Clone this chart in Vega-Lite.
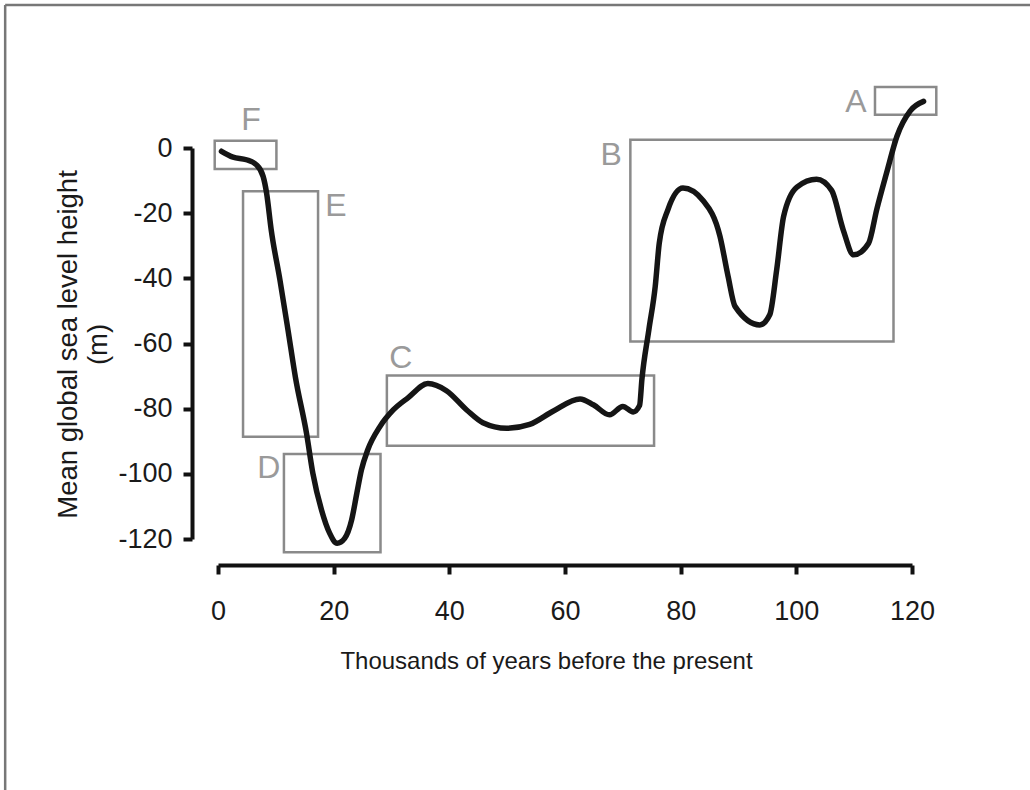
{
  "$schema": "https://vega.github.io/schema/vega-lite/v6.json",
  "width": 694,
  "height": 391,
  "autosize": "none",
  "padding": {"left": 218, "top": 148, "right": 118, "bottom": 251},
  "background": "white",
  "config": {
    "view": {"stroke": null},
    "axis": {
      "grid": false,
      "domainColor": "#111",
      "domainWidth": 4,
      "tickColor": "#111",
      "tickWidth": 4,
      "tickSize": 9,
      "labelFlush": false,
      "labelOverlap": false,
      "labelFont": "Liberation Sans",
      "labelFontSize": 27,
      "labelColor": "#1a1a1a",
      "titleFont": "Liberation Sans",
      "titleColor": "#1a1a1a",
      "titleFontWeight": "normal"
    }
  },
  "datasets": {
    "curve": [
      {"kyr": 0.6, "sea": -1.0}, {"kyr": 2.6, "sea": -2.8}, {"kyr": 4.9, "sea": -3.6},
      {"kyr": 6.6, "sea": -5.1}, {"kyr": 7.8, "sea": -8.7}, {"kyr": 8.4, "sea": -13.8},
      {"kyr": 9.2, "sea": -25.1}, {"kyr": 10.7, "sea": -40.4}, {"kyr": 12.1, "sea": -55.8},
      {"kyr": 13.4, "sea": -70.5}, {"kyr": 15.3, "sea": -87.5}, {"kyr": 16.4, "sea": -99.8},
      {"kyr": 17.9, "sea": -111.1}, {"kyr": 19.3, "sea": -118.2}, {"kyr": 20.6, "sea": -121.3},
      {"kyr": 21.9, "sea": -119.8}, {"kyr": 23.1, "sea": -114.2}, {"kyr": 24.0, "sea": -106.0},
      {"kyr": 24.8, "sea": -98.8}, {"kyr": 25.9, "sea": -92.6}, {"kyr": 28.0, "sea": -85.5},
      {"kyr": 30.3, "sea": -80.4}, {"kyr": 32.9, "sea": -76.6}, {"kyr": 36.3, "sea": -72.3},
      {"kyr": 39.5, "sea": -74.5}, {"kyr": 43.0, "sea": -80.4}, {"kyr": 45.8, "sea": -84.3},
      {"kyr": 49.9, "sea": -86.0}, {"kyr": 53.9, "sea": -84.8}, {"kyr": 58.0, "sea": -80.7},
      {"kyr": 62.6, "sea": -77.0}, {"kyr": 64.9, "sea": -78.8}, {"kyr": 67.7, "sea": -81.9},
      {"kyr": 70.0, "sea": -79.3}, {"kyr": 71.8, "sea": -81.0}, {"kyr": 72.9, "sea": -79.0},
      {"kyr": 73.3, "sea": -71.0}, {"kyr": 74.5, "sea": -55.8}, {"kyr": 75.6, "sea": -42.5},
      {"kyr": 76.3, "sea": -29.2}, {"kyr": 77.8, "sea": -18.9}, {"kyr": 80.4, "sea": -12.3},
      {"kyr": 83.9, "sea": -16.2}, {"kyr": 86.8, "sea": -27.1}, {"kyr": 88.2, "sea": -39.4},
      {"kyr": 89.4, "sea": -48.6}, {"kyr": 93.7, "sea": -54.3}, {"kyr": 95.4, "sea": -51.2},
      {"kyr": 96.6, "sea": -37.4}, {"kyr": 97.8, "sea": -21.0}, {"kyr": 100.1, "sea": -12.0},
      {"kyr": 103.5, "sea": -9.6}, {"kyr": 106.1, "sea": -13.0}, {"kyr": 108.1, "sea": -25.1},
      {"kyr": 109.9, "sea": -32.8}, {"kyr": 112.5, "sea": -29.2}, {"kyr": 113.9, "sea": -18.9},
      {"kyr": 115.6, "sea": -7.7}, {"kyr": 117.4, "sea": 3.6}, {"kyr": 119.7, "sea": 11.4},
      {"kyr": 122.0, "sea": 14.3}
    ],
    "boxes": [
      {"box": "A", "x1": 113.6, "x2": 124.2, "y1": 10.2, "y2": 18.7, "lx": 110.3, "ly": 14.1},
      {"box": "B", "x1": 71.3, "x2": 116.8, "y1": -59.4, "y2": 2.55, "lx": 68.0, "ly": -2.1},
      {"box": "C", "x1": 29.2, "x2": 75.4, "y1": -91.4, "y2": -69.8, "lx": 31.6, "ly": -64.5},
      {"box": "D", "x1": 11.4, "x2": 28.1, "y1": -124.1, "y2": -93.9, "lx": 8.8, "ly": -98.3},
      {"box": "E", "x1": 4.33, "x2": 17.3, "y1": -88.6, "y2": -13.3, "lx": 20.4, "ly": -17.9},
      {"box": "F", "x1": -0.57, "x2": 10.1, "y1": -6.45, "y2": 2.2, "lx": 5.7, "ly": 8.7}
    ],
    "frame": [
      {"fx1": -36.8, "fx2": 150, "fy1": 43.9, "fy2": -250}
    ]
  },
  "layer": [
    {
      "data": {"name": "frame"},
      "mark": {"type": "rule", "stroke": "#777", "strokeWidth": 2.5},
      "encoding": {
        "x": {"field": "fx1", "type": "quantitative", "scale": {"domain": [0, 120], "nice": false, "zero": false}},
        "x2": {"field": "fx2"},
        "y": {"field": "fy1", "type": "quantitative", "scale": {"domain": [-120, 0], "nice": false, "zero": false}}
      }
    },
    {
      "data": {"name": "frame"},
      "mark": {"type": "rule", "stroke": "#777", "strokeWidth": 2.5},
      "encoding": {
        "x": {"field": "fx1", "type": "quantitative"},
        "y": {"field": "fy1", "type": "quantitative"},
        "y2": {"field": "fy2"}
      }
    },
    {
      "data": {"name": "boxes"},
      "mark": {"type": "rect", "filled": false, "stroke": "#8a8a8a", "strokeWidth": 2.5},
      "encoding": {
        "x": {"field": "x1", "type": "quantitative"},
        "x2": {"field": "x2"},
        "y": {"field": "y1", "type": "quantitative"},
        "y2": {"field": "y2"}
      }
    },
    {
      "data": {"name": "boxes"},
      "mark": {"type": "text", "font": "Liberation Sans", "fontSize": 32, "color": "#9a9a9a", "align": "center", "baseline": "middle"},
      "encoding": {
        "x": {"field": "lx", "type": "quantitative"},
        "y": {"field": "ly", "type": "quantitative"},
        "text": {"field": "box"}
      }
    },
    {
      "data": {"name": "curve"},
      "mark": {"type": "line", "interpolate": "monotone", "stroke": "#151515", "strokeWidth": 5.5, "strokeCap": "round", "strokeJoin": "round"},
      "encoding": {
        "x": {
          "field": "kyr", "type": "quantitative",
          "axis": {
            "title": "Thousands of years before the present",
            "values": [0, 20, 40, 60, 80, 100, 120],
            "offset": 26,
            "labelPadding": 24,
            "titleFontSize": 24,
            "titleBaseline": "alphabetic",
            "titleAnchor": "middle",
            "titleX": 328,
            "titleY": 103
          }
        },
        "y": {
          "field": "sea", "type": "quantitative",
          "axis": {
            "title": ["Mean global sea level height", "(m)"],
            "values": [0, -20, -40, -60, -80, -100, -120],
            "labelExpr": "replace(datum.label, '\u2212', '-')",
            "offset": 26,
            "labelPadding": 11,
            "titleFontSize": 27.5,
            "titleLineHeight": 30,
            "titleAngle": 270,
            "titleBaseline": "middle",
            "titleAnchor": "middle",
            "titleX": -124,
            "titleY": 196
          }
        }
      }
    }
  ]
}
